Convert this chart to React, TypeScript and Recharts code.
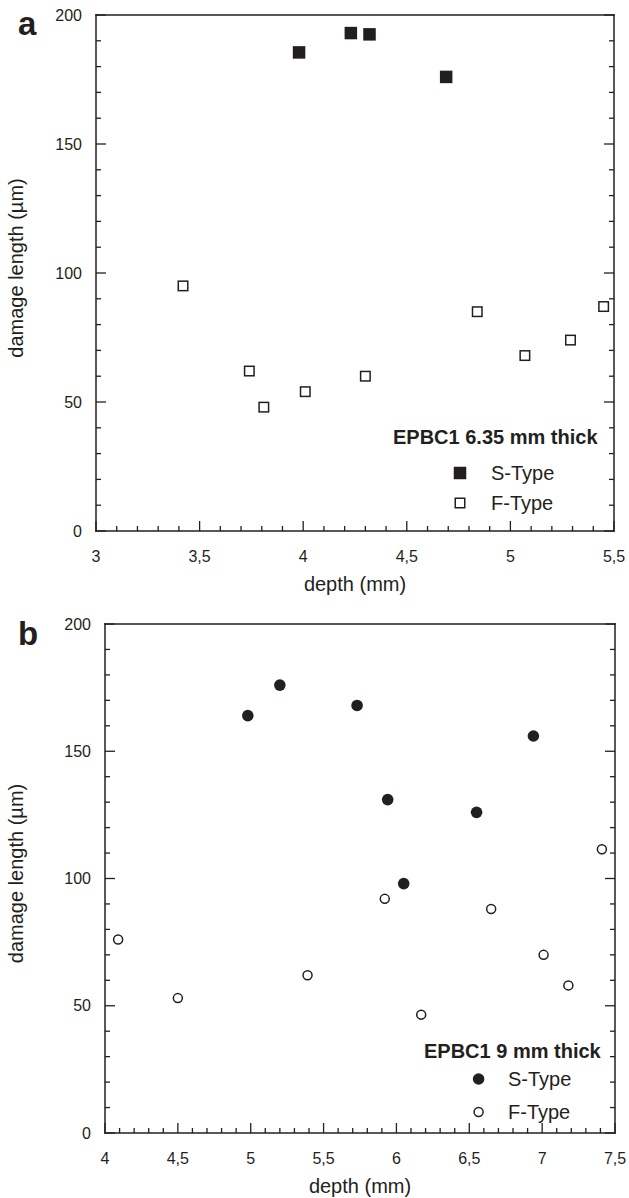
import { ScatterChart, Scatter, XAxis, YAxis, Legend } from "recharts";

const FONT = '"Liberation Sans", Arial, Helvetica, sans-serif';
const INK = "#231f20";

// panel a: EPBC1 6.35 mm thick
const depthA_S = [3.98, 4.23, 4.32, 4.69];
const lengthA_S = [185.5, 193, 192.5, 176];
const depthA_F = [3.42, 3.74, 3.81, 4.01, 4.3, 4.84, 5.07, 5.29, 5.45];
const lengthA_F = [95, 62, 48, 54, 60, 85, 68, 74, 87];
const xTicksA = [3, 3.5, 4, 4.5, 5, 5.5];

// panel b: EPBC1 9 mm thick
const depthB_S = [4.98, 5.2, 5.73, 5.94, 6.05, 6.55, 6.94];
const lengthB_S = [164, 176, 168, 131, 98, 126, 156];
const depthB_F = [4.09, 4.5, 5.39, 5.92, 6.17, 6.65, 7.01, 7.18, 7.41];
const lengthB_F = [76, 53, 62, 92, 46.5, 88, 70, 58, 111.5];
const xTicksB = [4, 4.5, 5, 5.5, 6, 6.5, 7, 7.5];

const yTicks = [0, 50, 100, 150, 200];

// minor tick positions for the inward tick marks
const steps = (from: number, to: number, step: number) => {
  const out: number[] = [];
  for (let v = from; v <= to + 1e-9; v += step) out.push(Math.round(v * 100) / 100);
  return out;
};

const zip = (xs: number[], ys: number[]) => xs.map((d, i) => ({ depth: d, length: ys[i] }));

const fmtComma = (v: number) => String(v).replace(".", ",");

type Side = "bottom" | "top" | "left" | "right";

const tickFn = (side: Side, major: number[], showLabel: boolean) => (p: any) => {
  const { x, y, payload } = p;
  const v = payload.value;
  const isMajor = major.some((m) => Math.abs(m - v) < 1e-6);
  const len = isMajor ? 10 : 5;
  const dir = { bottom: [0, -1], top: [0, 1], left: [1, 0], right: [-1, 0] }[side];
  return (
    <g>
      <line x1={x} y1={y} x2={x + dir[0] * len} y2={y + dir[1] * len} stroke={INK} strokeWidth={1.3} />
      {showLabel && isMajor && side === "bottom" && (
        <text x={x} y={y + 30.7} textAnchor="middle" fontSize={16} fontFamily={FONT} fill={INK}>
          {fmtComma(v)}
        </text>
      )}
      {showLabel && isMajor && side === "left" && (
        <text x={x - 14} y={y + 5.7} textAnchor="end" fontSize={16} fontFamily={FONT} fill={INK}>
          {v}
        </text>
      )}
    </g>
  );
};

const axisLine = { stroke: INK, strokeWidth: 1.5, strokeLinecap: "square" as const };

const squareFilled = (p: any) => (
  <rect x={p.cx - 6.25} y={p.cy - 6.25} width={12.5} height={12.5} fill={INK} />
);
const squareOpen = (p: any) => (
  <rect x={p.cx - 4.75} y={p.cy - 4.75} width={9.5} height={9.5} fill="#fff" stroke={INK} strokeWidth={1.5} />
);
const circleFilled = (p: any) => <circle cx={p.cx} cy={p.cy} r={5.8} fill={INK} />;
const circleOpen = (p: any) => (
  <circle cx={p.cx} cy={p.cy} r={4.5} fill="#fff" stroke={INK} strokeWidth={1.5} />
);

const yTitle = (dx: number, dy: number) => (props: any) => {
  const vb = props.viewBox;
  const cx = vb.x + vb.width / 2 + dx;
  const cy = vb.y + vb.height / 2 + dy;
  return (
    <text
      x={cx}
      y={cy}
      transform={`rotate(-90, ${cx}, ${cy})`}
      textAnchor="middle"
      dominantBaseline="central"
      fontSize={20}
      fontFamily={FONT}
      fill={INK}
    >
      damage length (µm)
    </text>
  );
};

const LegendA = () => (
  <svg width={240} height={100} style={{ display: "block" }} fontFamily={FONT} fill={INK}>
    <text x={13} y={24} fontSize={20} fontWeight="bold">
      EPBC1 6.35 mm thick
    </text>
    <rect x={73.75} y={46.75} width={12.5} height={12.5} fill={INK} />
    <text x={111} y={60} fontSize={20}>S-Type</text>
    <rect x={75.25} y={78.25} width={9.5} height={9.5} fill="#fff" stroke={INK} strokeWidth={1.5} />
    <text x={111} y={90} fontSize={20}>F-Type</text>
  </svg>
);

const LegendB = () => (
  <svg width={210} height={100} style={{ display: "block" }} fontFamily={FONT} fill={INK}>
    <text x={14} y={28} fontSize={20} fontWeight="bold">
      EPBC1 9 mm thick
    </text>
    <circle cx={68.6} cy={49} r={5.8} fill={INK} />
    <text x={98} y={56} fontSize={20}>S-Type</text>
    <circle cx={68.6} cy={82} r={4.5} fill="#fff" stroke={INK} strokeWidth={1.5} />
    <text x={98} y={89} fontSize={20}>F-Type</text>
  </svg>
);

const Panel = ({
  height,
  margin,
  xDomain,
  xMajor,
  sData,
  fData,
  sShape,
  fShape,
  yTitleDx,
  legend,
  legendPos,
}: any) => {
  const xMinor = steps(xDomain[0], xDomain[1], 0.1);
  const yMinor = steps(0, 200, 10);
  return (
    <ScatterChart width={629} height={height} margin={margin}>
      <XAxis
        xAxisId="x"
        dataKey="depth"
        type="number"
        domain={xDomain}
        allowDataOverflow
        ticks={xMinor}
        interval={0}
        height={1}
        tickSize={0}
        tickMargin={0}
        tickLine={false}
        axisLine={axisLine}
        tick={tickFn("bottom", xMajor, true)}
        label={{
          value: "depth (mm)",
          position: "bottom",
          offset: 45,
          style: { fontSize: 20, fontFamily: FONT, fill: INK },
        }}
      />
      <XAxis
        xAxisId="xt"
        orientation="top"
        type="number"
        domain={xDomain}
        allowDataOverflow
        ticks={xMinor}
        interval={0}
        height={1}
        tickSize={0}
        tickMargin={0}
        tickLine={false}
        axisLine={axisLine}
        tick={tickFn("top", xMajor, false)}
      />
      <YAxis
        yAxisId="y"
        dataKey="length"
        type="number"
        domain={[0, 200]}
        allowDataOverflow
        ticks={yMinor}
        interval={0}
        width={1}
        tickSize={0}
        tickMargin={0}
        tickLine={false}
        axisLine={axisLine}
        tick={tickFn("left", yTicks, true)}
        label={{ content: yTitle(yTitleDx, -5) }}
      />
      <YAxis
        yAxisId="yr"
        orientation="right"
        type="number"
        domain={[0, 200]}
        allowDataOverflow
        ticks={yMinor}
        interval={0}
        width={1}
        tickSize={0}
        tickMargin={0}
        tickLine={false}
        axisLine={axisLine}
        tick={tickFn("right", yTicks, false)}
      />
      <Legend
        layout="vertical"
        align="center"
        verticalAlign="middle"
        wrapperStyle={legendPos}
        content={legend}
      />
      <Scatter
        name="S-Type"
        xAxisId="x"
        yAxisId="y"
        data={sData}
        shape={sShape}
        isAnimationActive={false}
      />
      <Scatter
        name="F-Type"
        xAxisId="x"
        yAxisId="y"
        data={fData}
        shape={fShape}
        isAnimationActive={false}
      />
    </ScatterChart>
  );
};

const panelLetter = {
  position: "absolute" as const,
  left: 18,
  fontFamily: FONT,
  fontWeight: "bold" as const,
  fontSize: 33,
  lineHeight: "33px",
  color: INK,
};

export default function App() {
  return (
    <div style={{ position: "absolute", left: 0, top: 0, width: 629, height: 1198, background: "#fff" }}>
      <div style={{ position: "absolute", left: 0, top: 0 }}>
        <Panel
          height={600}
          margin={{ top: 14, right: 14, bottom: 68, left: 95 }}
          xDomain={[3, 5.5]}
          xMajor={xTicksA}
          sData={zip(depthA_S, lengthA_S)}
          fData={zip(depthA_F, lengthA_F)}
          sShape={squareFilled}
          fShape={squareOpen}
          yTitleDx={-80}
          legend={LegendA}
          legendPos={{ left: 380, top: 420, width: 240, height: 100 }}
        />
      </div>
      <div style={{ position: "absolute", left: 0, top: 600 }}>
        <Panel
          height={598}
          margin={{ top: 23, right: 13, bottom: 64, left: 104 }}
          xDomain={[4, 7.5]}
          xMajor={xTicksB}
          sData={zip(depthB_S, lengthB_S)}
          fData={zip(depthB_F, lengthB_F)}
          sShape={circleFilled}
          fShape={circleOpen}
          yTitleDx={-89}
          legend={LegendB}
          legendPos={{ left: 410, top: 430, width: 210, height: 100 }}
        />
      </div>
      <div style={{ ...panelLetter, top: 7 }}>a</div>
      <div style={{ ...panelLetter, top: 617 }}>b</div>
    </div>
  );
}
